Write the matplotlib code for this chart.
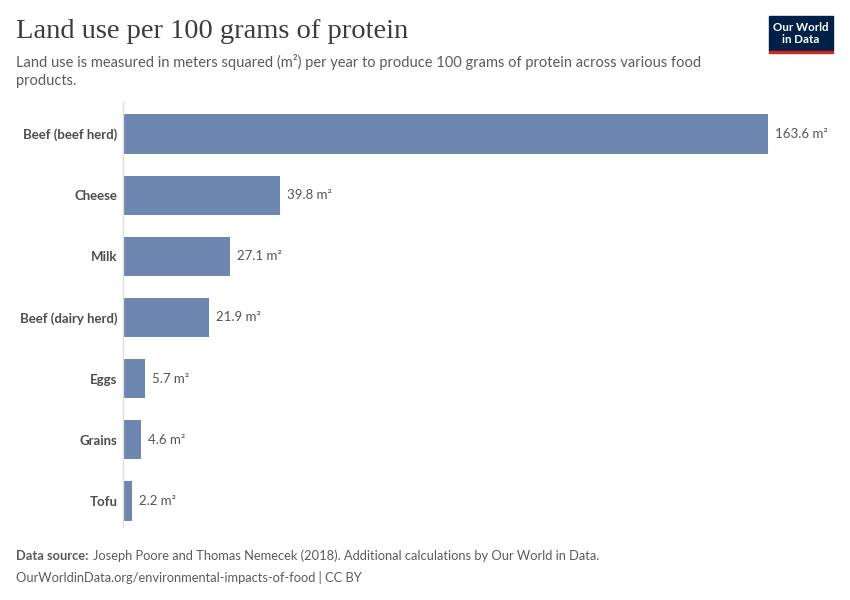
import matplotlib.pyplot as plt
from matplotlib.patches import Rectangle

foods = ['Beef (beef herd)', 'Cheese', 'Milk', 'Beef (dairy herd)', 'Eggs', 'Grains', 'Tofu']
land_use = [163.6, 39.8, 27.1, 21.9, 5.7, 4.6, 2.2]

plt.rcParams['font.family'] = ['Lato', 'DejaVu Sans']

fig = plt.figure(figsize=(8.5, 6), dpi=100)
W, H = 850, 600

ax = fig.add_axes([123 / W, 1 - 527 / H, (768 - 123) / W, 425 / H])
ypos = list(range(len(foods)))
ax.barh(ypos, land_use, height=0.64, color='#6d87b1', edgecolor='none')
ax.set_xlim(0, max(land_use))
ax.set_ylim(len(foods) - 1 + 0.425, -0.523)
for sp in ['top', 'right', 'bottom']:
    ax.spines[sp].set_visible(False)
ax.spines['left'].set_color('#dddddd')
ax.spines['left'].set_linewidth(1)
ax.set_xticks([])
ax.set_yticks(ypos)
ax.set_yticklabels(foods, fontsize=9.5, color='#4d4d4d', fontweight='bold')
ax.tick_params(axis='y', length=0, pad=4)
for y, v in zip(ypos, land_use):
    ax.annotate(f'{v} m²', (v, y), xytext=(5, 0), textcoords='offset points',
                va='center', ha='left', fontsize=9.5, color='#555555',
                annotation_clip=False)

# title and subtitle
fig.text(16 / W, 1 - 31 / H, 'Land use per 100 grams of protein', fontsize=20.5,
         family=['Liberation Serif', 'DejaVu Serif'], color='#3c3c3c',
         va='center', ha='left')
fig.text(16 / W, 1 - 71 / H,
         'Land use is measured in meters squared (m²) per year to produce 100 grams of protein across various food\nproducts.',
         fontsize=10.5, color='#5b5b5b', va='center', ha='left', linespacing=1.35)

# logo
fig.patches.append(Rectangle((769 / W, 1 - 51 / H), 64 / W, 35 / H,
                             transform=fig.transFigure, color='#002147'))
fig.patches.append(Rectangle((769 / W, 1 - 53 / H), 64 / W, 2.5 / H,
                             transform=fig.transFigure, color='#ce261e'))
fig.text(801 / W, 1 - 33.5 / H, 'Our World\nin Data', fontsize=8.3, color='white',
         fontweight='bold', ha='center', va='center', linespacing=1.05)

# footer
src = fig.text(16 / W, 1 - 556 / H, 'Data source:', fontsize=9.3, color='#5b5b5b',
               fontweight='bold', va='center', ha='left')
ax.annotate('Joseph Poore and Thomas Nemecek (2018). Additional calculations by Our World in Data.',
            xy=(1, 0.5), xycoords=src, xytext=(3, 0), textcoords='offset points',
            fontsize=9.3, color='#5b5b5b', va='center', ha='left', annotation_clip=False)
fig.text(16 / W, 1 - 577 / H, 'OurWorldinData.org/environmental-impacts-of-food | CC BY',
         fontsize=9.3, color='#5b5b5b', va='center', ha='left')

fig.savefig('out.png', dpi=100)
